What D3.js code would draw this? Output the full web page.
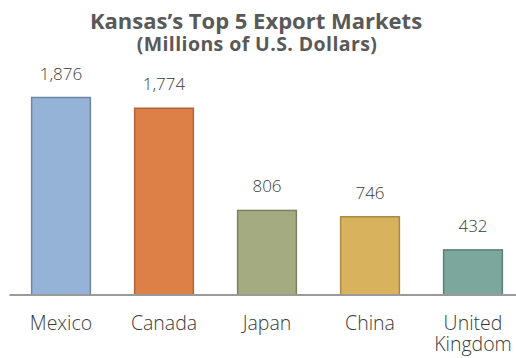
<!DOCTYPE html>
<html>
<head>
<meta charset="utf-8">
<script src="https://cdn.jsdelivr.net/npm/d3@7"></script>
<style>
  html, body { margin: 0; padding: 0; background: #fff; }
  svg { display: block; }
</style>
</head>
<body>
<svg id="chart" width="516" height="358"></svg>
<script>
// Kansas's top export markets, millions of U.S. dollars
const markets = ["Mexico", "Canada", "Japan", "China", "United Kingdom"];
const exportsMillions = [1876, 1774, 806, 746, 432];
const fillColors = ["#95b3d7", "#dd8047", "#a5ab81", "#d8b25c", "#7ba79d"];
const edgeColors = ["#6f86a2", "#ae6538", "#7c805e", "#a88a48", "#5b7e76"];
const valueLabels = ["1,876", "1,774", "806", "746", "432"];

const svg = d3.select("#chart");
const baseY = 295;

const x = d3.scaleBand()
  .domain(markets)
  .range([9.5, 524.5])
  .paddingInner(0.42)
  .paddingOuter(0.21);

const y = d3.scaleLinear()
  .domain([0, 1876])
  .range([baseY, 97]);

const labelFont = "'Open Sans', 'Noto Sans', sans-serif";

// Title
svg.append("text")
  .attr("x", 256).attr("y", 29)
  .attr("text-anchor", "middle")
  .attr("font-family", labelFont)
  .attr("font-weight", 700)
  .attr("font-size", 22)
  .attr("fill", "#595959")
  .text("Kansas\u2019s Top 5 Export Markets");

svg.append("text")
  .attr("x", 257).attr("y", 50.5)
  .attr("text-anchor", "middle")
  .attr("font-family", labelFont)
  .attr("font-weight", 700)
  .attr("font-size", 19.5)
  .attr("letter-spacing", 0.4)
  .attr("fill", "#595959")
  .text("(Millions of U.S. Dollars)");

// Bars
const data = markets.map((m, i) => ({ m, v: exportsMillions[i], i }));

svg.append("g").selectAll("rect")
  .data(data)
  .join("rect")
  .attr("x", d => x(d.m) + 0.5)
  .attr("y", d => y(d.v) + 0.5)
  .attr("width", x.bandwidth() - 1)
  .attr("height", d => baseY - y(d.v) - 0.5)
  .attr("fill", d => fillColors[d.i])
  .attr("stroke", d => edgeColors[d.i])
  .attr("stroke-width", 1.5);

// Value labels
svg.append("g").selectAll("text")
  .data(data)
  .join("text")
  .attr("x", d => x(d.m) + x.bandwidth() / 2)
  .attr("y", d => y(d.v) - 17.5)
  .attr("text-anchor", "middle")
  .attr("font-family", labelFont)
  .attr("font-weight", 300)
  .attr("font-size", 17)
  .attr("fill", "#3a3a3a")
  .text(d => valueLabels[d.i]);

// Baseline axis
const axis = d3.axisBottom(x).tickSize(0).tickPadding(0);
const axisG = svg.append("g")
  .attr("transform", `translate(0,${baseY})`)
  .call(axis);
axisG.select(".domain")
  .attr("d", `M9.5,0H516`)
  .attr("stroke", "#9a9a9a")
  .attr("stroke-width", 2);

axisG.selectAll(".tick text").each(function(d) {
  const t = d3.select(this);
  const words = d === "United Kingdom" ? ["United", "Kingdom"] : [d];
  t.text(null)
    .attr("y", 0).attr("dy", null)
    .attr("font-family", labelFont)
    .attr("font-weight", 300)
    .attr("font-size", 19.5)
    .attr("fill", "#3a3a3a");
  words.forEach((w, k) => {
    t.append("tspan")
      .attr("x", 0)
      .attr("y", 35 + k * 20.5)
      .text(w);
  });
});
</script>
</body>
</html>
